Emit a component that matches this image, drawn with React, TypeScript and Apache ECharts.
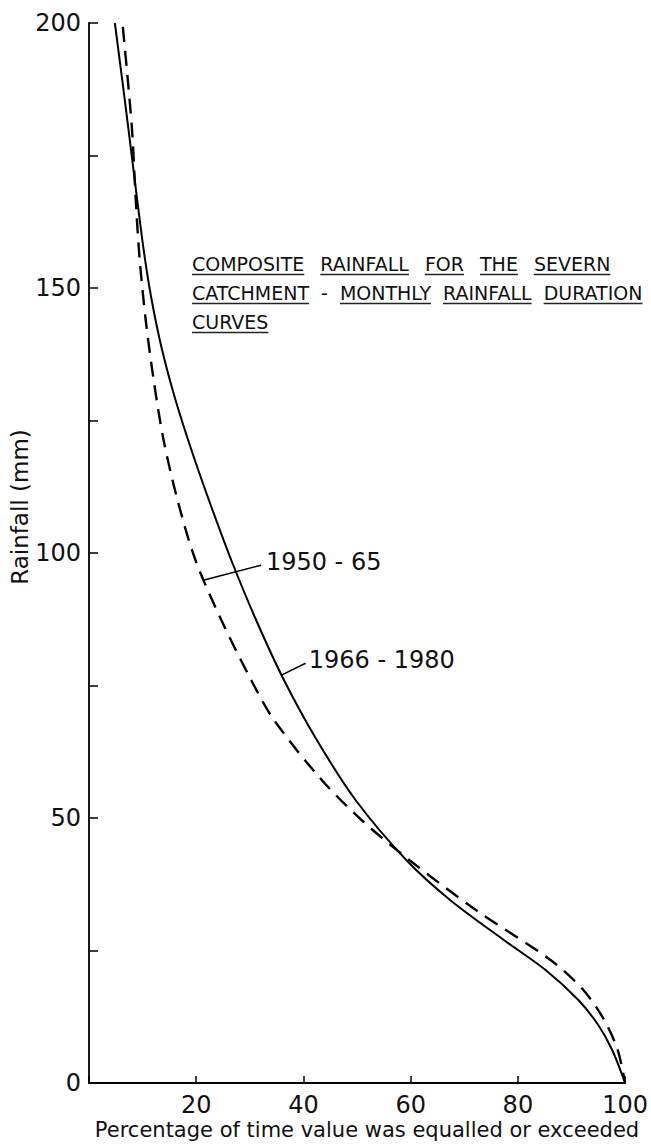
import React, { useEffect, useRef } from "react";
import * as echarts from "echarts";

// ---- Data ----
const xTickValues = [0, 20, 40, 60, 80, 100];
const yLabelValues = [0, 50, 100, 150, 200];

// 1966 - 1980 (solid curve)
const solidPct = [4.82, 6.68, 8.53, 10.2, 11.69, 13.64, 16.14, 19.11, 22.36, 26.53, 31.17, 36.36, 42.49, 49.72, 59.18, 67.35, 77.37, 85.16, 91.28, 94.99, 97.59, 100];
const solidMm = [200, 185.47, 170.38, 157.17, 147.74, 138.3, 128.87, 119.43, 110, 98.68, 87.36, 76.04, 64.72, 53.4, 42.08, 34.53, 26.98, 21.32, 15.66, 10.94, 6.23, 0];

// 1950 - 65 (dashed curve)
const dashedPct = [6.31, 7.24, 8.07, 8.72, 9.46, 10.58, 12.06, 13.91, 16.51, 19.85, 24.68, 30.24, 34.51, 43.41, 50.83, 59.74, 72.17, 86.09, 92.21, 96.1, 98.61, 100];
const dashedMm = [199.25, 189.25, 179.25, 166.6, 155.28, 143.96, 132.64, 121.32, 110, 98.68, 87.36, 76.04, 68.49, 57.17, 49.62, 42.08, 32.64, 23.21, 17.55, 11.89, 6.23, 0];

// annotations (data units)
const annotationNames = ["1950 - 65", "1966 - 1980"];
const leaderFrom = [[21.5, 94.9], [36.0, 77.0]];
const leaderTo = [[32.1, 97.7], [40.4, 79.2]];
const annotationAt = [[33.0, 98.3], [41.0, 79.8]];

const titleLines = [
  ["COMPOSITE", "RAINFALL", "FOR", "THE", "SEVERN"],
  ["CATCHMENT", "-", "MONTHLY", "RAINFALL", "DURATION"],
  ["CURVES"],
];

const xAxisTitle = "Percentage of time value was equalled or exceeded";
const yAxisTitle = "Rainfall (mm)";

const FONT = "'DejaVu Sans', 'Liberation Sans', sans-serif";

export default function App() {
  const ref = useRef<HTMLDivElement>(null);

  useEffect(() => {
    if (!ref.current) return;
    const chart = echarts.init(ref.current, undefined, { renderer: "svg" });

    const zip = (xs: number[], ys: number[]) => xs.map((x, i) => [x, ys[i]]);

    chart.setOption({
      animation: false,
      backgroundColor: "#ffffff",
      grid: { left: 89, right: 23, top: 23, bottom: 64, containLabel: false },
      xAxis: {
        type: "value",
        min: xTickValues[0],
        max: xTickValues[xTickValues.length - 1],
        interval: 20,
        axisLine: { show: true, lineStyle: { color: "#000", width: 1.8 } },
        axisTick: { show: true, inside: true, length: 7, lineStyle: { color: "#000", width: 1.5 } },
        axisLabel: {
          margin: 10,
          fontSize: 24,
          fontFamily: FONT,
          color: "#111",
          formatter: (v: number) => (v === 0 ? "" : String(v)),
        },
        splitLine: { show: false },
      },
      yAxis: {
        type: "value",
        min: 0,
        max: 200,
        interval: 25,
        axisLine: { show: true, lineStyle: { color: "#000", width: 1.8 } },
        axisTick: { show: true, inside: true, length: 9, lineStyle: { color: "#000", width: 1.5 } },
        axisLabel: {
          margin: 8,
          fontSize: 24,
          fontFamily: FONT,
          color: "#111",
          formatter: (v: number) => (yLabelValues.indexOf(v) >= 0 ? String(v) : ""),
        },
        splitLine: { show: false },
      },
      series: [
        {
          name: "1966 - 1980",
          type: "line",
          data: zip(solidPct, solidMm),
          showSymbol: false,
          smooth: 0.3,
          clip: false,
          lineStyle: { color: "#000", width: 2, type: "solid" },
        },
        {
          name: "1950 - 65",
          type: "line",
          data: zip(dashedPct, dashedMm),
          showSymbol: false,
          smooth: 0.3,
          clip: false,
          lineStyle: { color: "#000", width: 2.4, type: [15, 9] },
        },
      ],
    });

    // measure text for underlined title block
    const ctx = document.createElement("canvas").getContext("2d")!;
    const titleSize = 19;
    ctx.font = `${titleSize}px 'DejaVu Sans'`;
    const lineY = [263.5, 292.5, 321.5];
    const lineGap = [16, 12, 0];
    const startX = 192;
    const graphics: any[] = [];
    titleLines.forEach((words, li) => {
      let x = startX;
      words.forEach((w) => {
        const wd = ctx.measureText(w).width;
        graphics.push({
          type: "text",
          x,
          y: lineY[li],
          style: {
            text: w,
            fontSize: titleSize,
            fontFamily: FONT,
            fill: "#111",
            align: "left",
            verticalAlign: "middle",
          },
        });
        if (w !== "-") {
          graphics.push({
            type: "line",
            shape: { x1: x, y1: lineY[li] + 11, x2: x + wd, y2: lineY[li] + 11 },
            style: { stroke: "#222", lineWidth: 1.5 },
          });
        }
        x += wd + lineGap[li];
      });
    });

    // annotations with leader lines
    annotationNames.forEach((name, i) => {
      const p1 = chart.convertToPixel({ gridIndex: 0 }, leaderFrom[i]) as number[];
      const p2 = chart.convertToPixel({ gridIndex: 0 }, leaderTo[i]) as number[];
      const pt = chart.convertToPixel({ gridIndex: 0 }, annotationAt[i]) as number[];
      graphics.push({
        type: "line",
        shape: { x1: p1[0], y1: p1[1], x2: p2[0], y2: p2[1] },
        style: { stroke: "#000", lineWidth: 1.6 },
      });
      graphics.push({
        type: "text",
        x: pt[0],
        y: pt[1],
        style: {
          text: name,
          fontSize: 24,
          fontFamily: FONT,
          fill: "#111",
          align: "left",
          verticalAlign: "middle",
        },
      });
    });

    // axis titles
    graphics.push({
      type: "text",
      x: 367,
      y: 1130,
      style: {
        text: xAxisTitle,
        fontSize: 21,
        fontFamily: FONT,
        fill: "#111",
        align: "center",
        verticalAlign: "middle",
      },
    });
    graphics.push({
      type: "text",
      x: 20,
      y: 507,
      rotation: Math.PI / 2,
      style: {
        text: yAxisTitle,
        fontSize: 23,
        fontFamily: FONT,
        fill: "#111",
        align: "center",
        verticalAlign: "middle",
      },
    });

    chart.setOption({ graphic: graphics });

    return () => chart.dispose();
  }, []);

  return (
    <div
      ref={ref}
      style={{ position: "fixed", left: 0, top: 0, width: 651, height: 1147, background: "#fff" }}
    />
  );
}
